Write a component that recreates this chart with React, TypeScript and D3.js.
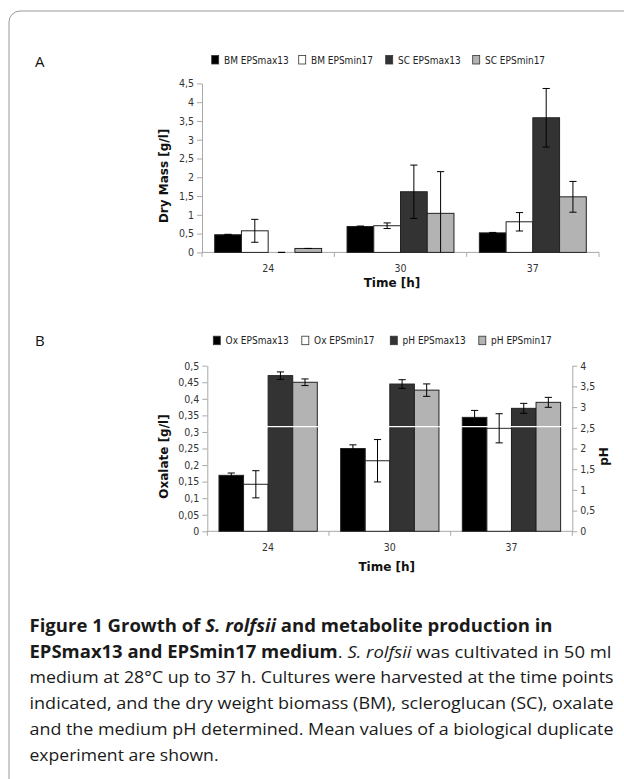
import { useEffect, useRef } from 'react';
import * as d3 from 'd3';

const times = ['24', '30', '37'];
const fills = ['#000000', '#ffffff', '#333333', '#b3b3b3'];

// panel A: dry mass [g/l]
const legendA = ['BM EPSmax13', 'BM EPSmin17', 'SC EPSmax13', 'SC EPSmin17'];
const bmMax13 = [0.47, 0.69, 0.52];
const bmMax13Err = [0.012, 0.012, 0.012];
const bmMin17 = [0.575, 0.71, 0.815];
const bmMin17Err = [0.305, 0.075, 0.245];
const scMax13 = [0, 1.615, 3.585];
const scMax13Err = [0, 0.71, 0.78];
const scMin17 = [0.105, 1.04, 1.48];
const scMin17Err = [0, 1.11, 0.41];
const dryMassTicks = [0, 0.5, 1, 1.5, 2, 2.5, 3, 3.5, 4, 4.5];

// panel B: oxalate [g/l] (left) and pH (right)
const legendB = ['Ox EPSmax13', 'Ox EPSmin17', 'pH EPSmax13', 'pH EPSmin17'];
const oxMax13 = [0.169, 0.25, 0.344];
const oxMax13Err = [0.007, 0.011, 0.021];
const oxMin17 = [0.142, 0.213, 0.311];
const oxMin17Err = [0.041, 0.064, 0.044];
const phMax13 = [3.76, 3.557, 2.97];
const phMax13Err = [0.09, 0.105, 0.12];
const phMin17 = [3.6, 3.41, 3.115];
const phMin17Err = [0.08, 0.15, 0.12];
const oxalateTicks = [0, 0.05, 0.1, 0.15, 0.2, 0.25, 0.3, 0.35, 0.4, 0.45, 0.5];
const phTicks = [0, 0.5, 1, 1.5, 2, 2.5, 3, 3.5, 4];
const phWhiteLine = 2.53;

type Seg = { t: string; b?: boolean; i?: boolean };
const captionLines: Seg[][] = [
  [
    { t: 'Figure 1 Growth of ', b: true },
    { t: 'S. rolfsii', b: true, i: true },
    { t: ' and metabolite production in', b: true },
  ],
  [
    { t: 'EPSmax13 and EPSmin17 medium', b: true },
    { t: '. ' },
    { t: 'S. rolfsii', i: true },
    { t: ' was cultivated in 50 ml' },
  ],
  [{ t: 'medium at 28°C up to 37 h. Cultures were harvested at the time points' }],
  [{ t: 'indicated, and the dry weight biomass (BM), scleroglucan (SC), oxalate' }],
  [{ t: 'and the medium pH determined. Mean values of a biological duplicate' }],
  [{ t: 'experiment are shown.' }],
];
const captionWidths = [523, 582, 584, 584, 584, 189];

const TICK_FONT = '"DejaVu Sans Condensed", "DejaVu Sans", sans-serif';
const TITLE_FONT = '"DejaVu Sans", Verdana, sans-serif';
const CAPTION_FONT = '"Open Sans", "Noto Sans", sans-serif';

const comma = (v: number) => String(+v.toFixed(2)).replace('.', ',');

type Series = { values: number[]; err: number[]; axis: 'left' | 'right' };

type Panel = {
  letter: string;
  letterY: number;
  legend: string[];
  legendX: number;
  legendPitch: number;
  legendY: number;
  left: number;
  right: number;
  top: number;
  bottom: number;
  leftMax: number;
  leftTicks: number[];
  leftTitle: string;
  leftTitleX: number;
  rightMax?: number;
  rightTicks?: number[];
  rightTitle?: string;
  series: Series[];
  whiteLine?: number;
  xTitleX: number;
  xTitleY: number;
};

function drawPanel(root: d3.Selection<SVGGElement, unknown, null, undefined>, p: Panel) {
  const g = root.append('g');

  g.append('text')
    .attr('x', 35)
    .attr('y', p.letterY)
    .attr('font-family', CAPTION_FONT)
    .attr('font-size', 15)
    .attr('fill', '#111')
    .text(p.letter);

  // legend
  p.legend.forEach((label, i) => {
    const lx = p.legendX + i * p.legendPitch;
    g.append('rect')
      .attr('x', lx)
      .attr('y', p.legendY - 4.5)
      .attr('width', 7)
      .attr('height', 8.5)
      .attr('fill', fills[i])
      .attr('stroke', '#333')
      .attr('stroke-width', 0.8);
    g.append('text')
      .attr('x', lx + 12.3)
      .attr('y', p.legendY + 3.6)
      .attr('font-family', TICK_FONT)
      .attr('font-size', 10)
      .attr('fill', '#222')
      .text(label);
  });

  const x0 = d3.scaleBand<string>().domain(times).range([p.left, p.right]);
  const x1 = d3
    .scaleBand<number>()
    .domain([0, 1, 2, 3])
    .range([0, x0.bandwidth()])
    .paddingInner(0)
    .paddingOuter(0.475);
  const yL = d3.scaleLinear().domain([0, p.leftMax]).range([p.bottom, p.top]);
  const yR = p.rightMax ? d3.scaleLinear().domain([0, p.rightMax]).range([p.bottom, p.top]) : yL;

  const styleAxis = (ax: d3.Selection<SVGGElement, unknown, null, undefined>) => {
    ax.select('.domain').attr('stroke', '#a8a8a8');
    ax.selectAll('.tick line').attr('stroke', '#a8a8a8');
    ax.selectAll('.tick text')
      .attr('fill', '#333')
      .attr('font-family', TICK_FONT)
      .attr('font-size', 10.5);
  };

  const axL = g
    .append('g')
    .attr('transform', `translate(${p.left},0)`)
    .call(
      d3
        .axisLeft(yL)
        .tickValues(p.leftTicks)
        .tickFormat((d) => comma(d as number))
        .tickSize(5)
        .tickSizeOuter(0)
        .tickPadding(3)
    );
  styleAxis(axL);

  if (p.rightMax && p.rightTicks) {
    const axR = g
      .append('g')
      .attr('transform', `translate(${p.right},0)`)
      .call(
        d3
          .axisRight(yR)
          .tickValues(p.rightTicks)
          .tickFormat((d) => comma(d as number))
          .tickSize(5)
          .tickSizeOuter(0)
          .tickPadding(3)
      );
    styleAxis(axR);
  }

  // x axis baseline with category dividers
  g.append('line')
    .attr('x1', p.left)
    .attr('x2', p.right)
    .attr('y1', p.bottom)
    .attr('y2', p.bottom)
    .attr('stroke', '#a8a8a8');
  const edges = [p.left, ...times.map((t) => (x0(t) as number) + x0.bandwidth())];
  edges.forEach((ex) => {
    g.append('line')
      .attr('x1', ex)
      .attr('x2', ex)
      .attr('y1', p.bottom)
      .attr('y2', p.bottom + 4.5)
      .attr('stroke', '#a8a8a8');
  });
  times.forEach((t) => {
    g.append('text')
      .attr('x', (x0(t) as number) + x0.bandwidth() / 2)
      .attr('y', p.bottom + 19.5)
      .attr('text-anchor', 'middle')
      .attr('font-family', TICK_FONT)
      .attr('font-size', 10.5)
      .attr('fill', '#333')
      .text(t);
  });

  // bars
  p.series.forEach((s, i) => {
    const y = s.axis === 'left' ? yL : yR;
    s.values.forEach((v, j) => {
      if (v <= 0) return;
      g.append('rect')
        .attr('x', (x0(times[j]) as number) + (x1(i) as number))
        .attr('y', y(v))
        .attr('width', x1.bandwidth())
        .attr('height', p.bottom - y(v))
        .attr('fill', fills[i])
        .attr('stroke', '#222')
        .attr('stroke-width', 1);
    });
  });

  if (p.whiteLine !== undefined) {
    g.append('line')
      .attr('x1', p.left + 1)
      .attr('x2', p.right - 1)
      .attr('y1', yR(p.whiteLine))
      .attr('y2', yR(p.whiteLine))
      .attr('stroke', '#ffffff')
      .attr('stroke-width', 1.2);
  }

  // error bars
  p.series.forEach((s, i) => {
    const y = s.axis === 'left' ? yL : yR;
    s.values.forEach((v, j) => {
      const e = s.err[j];
      const cx = (x0(times[j]) as number) + (x1(i) as number) + x1.bandwidth() / 2;
      const hi = v + e;
      const lo = Math.max(0, v - e);
      const eb = g.append('g').attr('stroke', '#000').attr('stroke-width', 1);
      eb.append('line').attr('x1', cx).attr('x2', cx).attr('y1', y(hi)).attr('y2', y(lo));
      eb.append('line').attr('x1', cx - 3.6).attr('x2', cx + 3.6).attr('y1', y(hi)).attr('y2', y(hi));
      if (v - e >= 0) {
        eb.append('line').attr('x1', cx - 3.6).attr('x2', cx + 3.6).attr('y1', y(lo)).attr('y2', y(lo));
      }
    });
  });

  // axis titles
  g.append('text')
    .attr('transform', `translate(${p.leftTitleX},${(p.top + p.bottom) / 2 + 8}) rotate(-90)`)
    .attr('text-anchor', 'middle')
    .attr('font-family', TITLE_FONT)
    .attr('font-weight', 'bold')
    .attr('font-size', 12)
    .attr('fill', '#111')
    .text(p.leftTitle);
  if (p.rightTitle) {
    g.append('text')
      .attr('transform', `translate(${p.right + 35.5},${(p.top + p.bottom) / 2 + 8}) rotate(-90)`)
      .attr('text-anchor', 'middle')
      .attr('font-family', TITLE_FONT)
      .attr('font-weight', 'bold')
      .attr('font-size', 12)
      .attr('fill', '#111')
      .text(p.rightTitle);
  }
  g.append('text')
    .attr('x', p.xTitleX)
    .attr('y', p.xTitleY)
    .attr('text-anchor', 'middle')
    .attr('font-family', TITLE_FONT)
    .attr('font-weight', 'bold')
    .attr('font-size', 12)
    .attr('fill', '#111')
    .text('Time [h]');
}

export default function App() {
  const ref = useRef<SVGSVGElement | null>(null);

  useEffect(() => {
    if (!ref.current) return;
    const svg = d3.select(ref.current);
    svg.selectAll('*').remove();
    const root = svg.append('g');

    root
      .append('rect')
      .attr('width', 624)
      .attr('height', 779)
      .attr('fill', '#ffffff');

    // frame: rounded top-left corner, open right and bottom
    root
      .append('path')
      .attr('d', 'M9,779 V22 A11,11 0 0 1 20,11 H624')
      .attr('fill', 'none')
      .attr('stroke', '#999')
      .attr('stroke-width', 1);

    drawPanel(root, {
      letter: 'A',
      letterY: 67,
      legend: legendA,
      legendX: 211.7,
      legendPitch: 87,
      legendY: 60,
      left: 202,
      right: 599,
      top: 83.4,
      bottom: 252.4,
      leftMax: 4.5,
      leftTicks: dryMassTicks,
      leftTitle: 'Dry Mass [g/l]',
      leftTitleX: 168,
      series: [
        { values: bmMax13, err: bmMax13Err, axis: 'left' },
        { values: bmMin17, err: bmMin17Err, axis: 'left' },
        { values: scMax13, err: scMax13Err, axis: 'left' },
        { values: scMin17, err: scMin17Err, axis: 'left' },
      ],
      xTitleX: 392,
      xTitleY: 287,
    });

    drawPanel(root, {
      letter: 'B',
      letterY: 346,
      legend: legendB,
      legendX: 213.3,
      legendPitch: 88.5,
      legendY: 340.7,
      left: 207.3,
      right: 572.3,
      top: 365.7,
      bottom: 531.3,
      leftMax: 0.5,
      leftTicks: oxalateTicks,
      leftTitle: 'Oxalate [g/l]',
      leftTitleX: 168,
      rightMax: 4,
      rightTicks: phTicks,
      rightTitle: 'pH',
      series: [
        { values: oxMax13, err: oxMax13Err, axis: 'left' },
        { values: oxMin17, err: oxMin17Err, axis: 'left' },
        { values: phMax13, err: phMax13Err, axis: 'right' },
        { values: phMin17, err: phMin17Err, axis: 'right' },
      ],
      whiteLine: phWhiteLine,
      xTitleX: 386.7,
      xTitleY: 571,
    });

    // caption
    const cap = root
      .append('g')
      .attr('font-family', CAPTION_FONT)
      .attr('font-size', 17)
      .attr('fill', '#1a1a1a');
    captionLines.forEach((line, k) => {
      const t = cap
        .append('text')
        .attr('x', 29.5)
        .attr('y', 632 + k * 25.7)
        .attr('textLength', captionWidths[k])
        .attr('lengthAdjust', 'spacingAndGlyphs');
      line.forEach((s) => {
        t.append('tspan')
          .attr('font-weight', s.b ? 'bold' : 'normal')
          .attr('font-style', s.i ? 'italic' : 'normal')
          .text(s.t);
      });
    });
  }, []);

  return (
    <div style={{ position: 'absolute', left: 0, top: 0 }}>
      <svg ref={ref} width={624} height={779} viewBox="0 0 624 779" style={{ display: 'block' }} />
    </div>
  );
}
